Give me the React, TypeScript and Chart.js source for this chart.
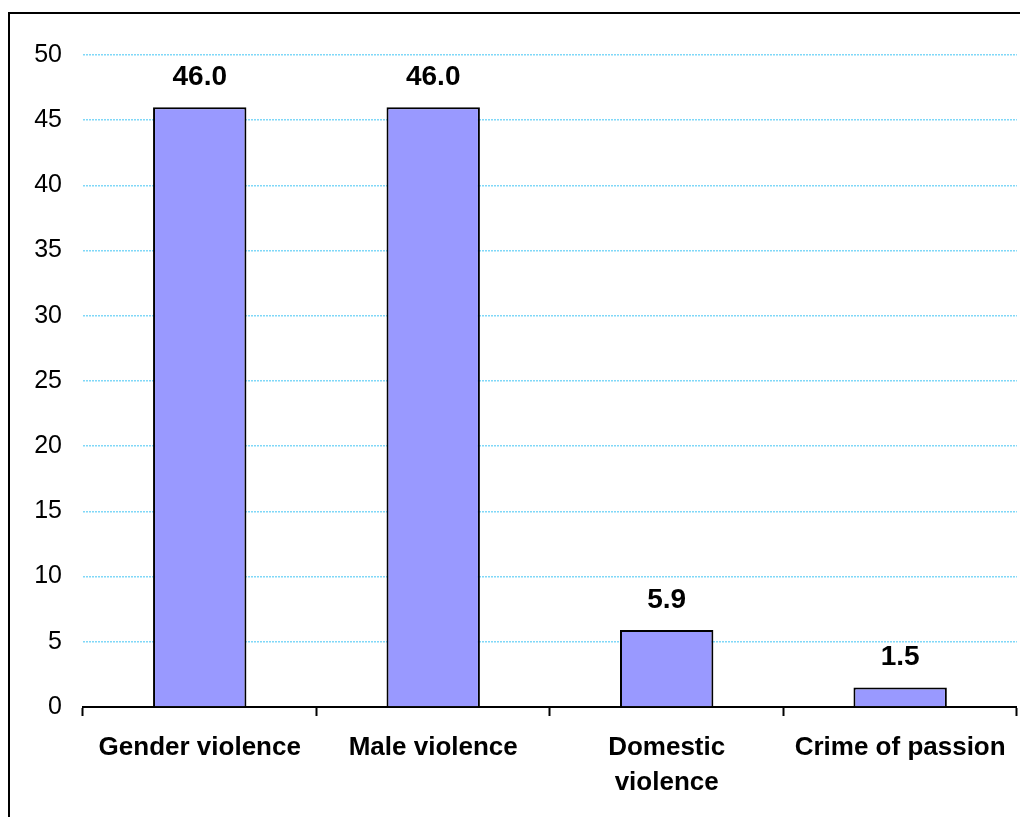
import React, { useEffect, useRef } from "react";
import { Chart, registerables } from "chart.js";

Chart.register(...registerables);

const categories: (string | string[])[] = [
  "Gender violence",
  "Male violence",
  ["Domestic", "violence"],
  "Crime of passion",
];
const values: number[] = [46.0, 46.0, 5.9, 1.5];
const yMin = 0;
const yMax = 50;
const yStep = 5;

const FONT = "'Liberation Sans', Arial, Helvetica, sans-serif";

const framePlugin = {
  id: "frame",
  afterDraw(chart: any) {
    const ctx = chart.ctx;
    ctx.save();
    ctx.strokeStyle = "#000";
    ctx.lineWidth = 2;
    ctx.strokeRect(9, 13, 1200, 1000);
    ctx.restore();
  },
};

const valueLabelPlugin = {
  id: "valueLabels",
  afterDatasetsDraw(chart: any) {
    const ctx = chart.ctx;
    const meta = chart.getDatasetMeta(0);
    ctx.save();
    ctx.font = `bold 28px ${FONT}`;
    ctx.fillStyle = "#000";
    ctx.textAlign = "center";
    ctx.textBaseline = "alphabetic";
    meta.data.forEach((bar: any, i: number) => {
      ctx.fillText(values[i].toFixed(1), bar.x, bar.y - 22);
    });
    ctx.restore();
  },
};

export default function App() {
  const canvasRef = useRef<HTMLCanvasElement | null>(null);

  useEffect(() => {
    if (!canvasRef.current) return;
    const chart = new Chart(canvasRef.current, {
      type: "bar",
      data: {
        labels: categories,
        datasets: [
          {
            data: values,
            backgroundColor: "#9999FF",
            borderColor: "#000000",
            borderWidth: 2,
            barPercentage: 0.4,
            categoryPercentage: 1.0,
          },
        ],
      },
      options: {
        responsive: false,
        animation: false,
        layout: { padding: { left: 0, right: 3, top: 55, bottom: 0 } },
        plugins: {
          legend: { display: false },
          tooltip: { enabled: false },
        },
        scales: {
          x: {
            offset: true,
            grid: {
              offset: true,
              drawOnChartArea: false,
              drawTicks: true,
              tickLength: 9,
              tickWidth: 2,
              tickColor: "#000",
            },
            border: { display: true, color: "#000", width: 2 },
            ticks: {
              color: "#000",
              padding: 14,
              maxRotation: 0,
              autoSkip: false,
              font: { family: FONT, size: 26, weight: "bold", lineHeight: 1.35 },
            },
            afterFit(scale: any) {
              scale.height = 110;
            },
          },
          y: {
            min: yMin,
            max: yMax,
            ticks: {
              stepSize: yStep,
              color: "#000",
              padding: 21,
              font: { family: FONT, size: 25 },
            },
            grid: {
              color: "#80d8f8",
              lineWidth: 1.5,
              drawTicks: false,
            },
            border: { display: false, dash: [2, 1] },
            afterFit(scale: any) {
              scale.width = 83;
            },
          },
        },
      },
      plugins: [valueLabelPlugin, framePlugin],
    });
    return () => chart.destroy();
  }, []);

  return (
    <div style={{ position: "absolute", left: 0, top: 0, width: 1020, height: 817, background: "#fff" }}>
      <canvas ref={canvasRef} width={1020} height={817} style={{ width: 1020, height: 817, display: "block" }} />
    </div>
  );
}
